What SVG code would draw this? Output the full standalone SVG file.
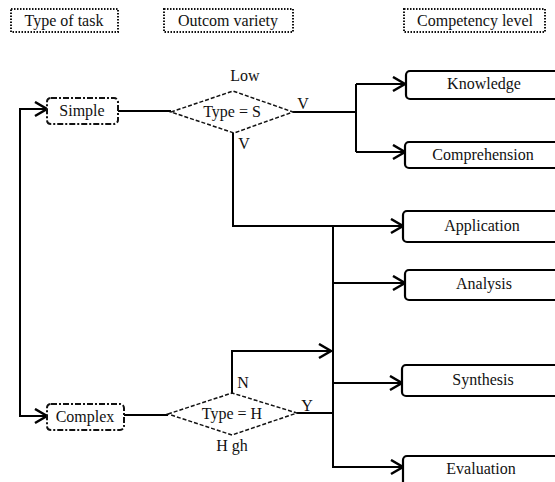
<svg xmlns="http://www.w3.org/2000/svg" width="555" height="482" viewBox="0 0 555 482" font-family="'Liberation Serif','Times New Roman',serif">
<style>
text{font-family:"Liberation Serif","Times New Roman","DejaVu Serif",serif;font-size:16px;fill:#111;text-anchor:middle}
.hdr{fill:#fff;stroke:#111;stroke-width:2;stroke-dasharray:1.5 1.5}
.task{fill:#fff;stroke:#111;stroke-width:2;stroke-dasharray:6 2 2 2}
.dia{fill:#fff;stroke:#111;stroke-width:1.5;stroke-dasharray:4 2}
.lvl{fill:#fff;stroke:#000;stroke-width:2.2}
.c{fill:none;stroke:#000;stroke-width:2}
.sm{font-size:16px}
</style>
<defs>
<marker id="ah" markerUnits="userSpaceOnUse" markerWidth="16" markerHeight="18" refX="13" refY="8" orient="auto-start-reverse">
<path d="M1,1 L13,8 L1,15" fill="none" stroke="#000" stroke-width="2.5"/>
</marker>
</defs>
<rect width="555" height="482" fill="#fff"/>
<g id="h-task"><rect class="hdr" x="11" y="9" width="107" height="23"/><text x="64" y="26">Type of  task</text></g>
<g id="h-outcome"><rect class="hdr" x="164" y="9" width="129" height="23"/><text x="228" y="26">Outcom variety</text></g>
<g id="h-level"><rect class="hdr" x="404" y="9" width="141" height="23"/><text x="475" y="26">Competency level</text></g>
<g id="connectors">
<path class="c" d="M47,109 H20 V416 H47" marker-start="url(#ah)" marker-end="url(#ah)"/>
<path class="c" d="M118,111 H171"/>
<path class="c" d="M293,112 H356"/>
<path class="c" d="M356,84 V152"/>
<path class="c" d="M356,84 H405" marker-end="url(#ah)"/>
<path class="c" d="M356,152 H405" marker-end="url(#ah)"/>
<path class="c" d="M233,133 V226 H403" marker-end="url(#ah)"/>
<path class="c" d="M333,226 V467 H403" marker-end="url(#ah)"/>
<path class="c" d="M333,283 H405" marker-end="url(#ah)"/>
<path class="c" d="M333,383 H402" marker-end="url(#ah)"/>
<path class="c" d="M124,415 H168"/>
<path class="c" d="M297,413 H333"/>
<path class="c" d="M232,393 V351 H331" marker-end="url(#ah)"/>
</g>
<g id="simple"><rect class="task" x="47" y="98" width="71" height="26" rx="4"/><text x="82" y="116">Simple</text></g>
<g id="complex"><rect class="task" x="47" y="404" width="77" height="26" rx="4"/><text x="85" y="422">Complex</text></g>
<g id="diamond-s"><polygon class="dia" points="171,112 233,91 293,112 234,133"/><text x="232" y="117">Type = S</text>
<text x="245" y="81" class="sm">Low</text><text x="303" y="109" class="sm">V</text><text x="244" y="149" class="sm">V</text></g>
<g id="diamond-h"><polygon class="dia" points="168,414 232,393 297,413 232,435"/><text x="232" y="419">Type = H</text>
<text x="243" y="388" class="sm">N</text><text x="307" y="411" class="sm">Y</text><text x="232" y="451" class="sm">H gh</text></g>
<g id="knowledge"><rect class="lvl" x="406" y="71" width="160" height="28" rx="4"/><text x="484" y="89">Knowledge</text></g>
<g id="comprehension"><rect class="lvl" x="405" y="142" width="160" height="26" rx="4"/><text x="483" y="160">Comprehension</text></g>
<g id="application"><rect class="lvl" x="403" y="211" width="160" height="31" rx="4"/><text x="482" y="231">Application</text></g>
<g id="analysis"><rect class="lvl" x="405" y="270" width="160" height="30" rx="4"/><text x="484" y="289">Analysis</text></g>
<g id="synthesis"><rect class="lvl" x="402" y="365" width="160" height="31" rx="4"/><text x="483" y="385">Synthesis</text></g>
<g id="evaluation"><rect class="lvl" x="403" y="456" width="160" height="30" rx="4"/><text x="481" y="474">Evaluation</text></g>
</svg>
